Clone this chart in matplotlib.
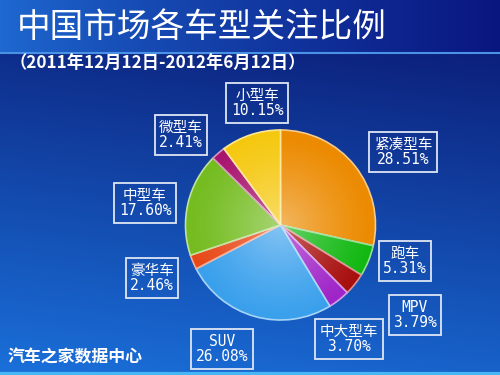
import numpy as np
import matplotlib
matplotlib.use("Agg")
import matplotlib.pyplot as plt
from matplotlib.colors import to_rgb

plt.rcParams['font.family'] = ['Noto Sans CJK SC', 'DejaVu Sans']

# data, clockwise from 12 o'clock
labels = ['紧凑型车', '跑车', 'MPV', '中大型车', 'SUV', '豪华车', '中型车', '微型车', '小型车']
shares = [28.51, 5.31, 3.79, 3.70, 26.08, 2.46, 17.60, 2.41, 10.15]
colors = ['#ec8a00', '#12b812', '#a80e0e', '#a024c8', '#3aa0ec',
          '#e84818', '#74bc20', '#a8146e', '#f5c810']

title = '中国市场各车型关注比例'
subtitle = '（2011年12月12日-2012年6月12日）'
source = '汽车之家数据中心'

# label box centres in pixels (same order as labels)
label_pos = [(403, 152), (405, 261), (415, 315), (349, 339), (222, 349),
             (152, 278), (145, 203), (181, 135), (257, 103)]

W, H = 500, 375
fig = plt.figure(figsize=(5, 3.75), dpi=100)

# background
bg = fig.add_axes([0, 0, 1, 1])
bg.set_xlim(0, W)
bg.set_ylim(H, 0)
bg.axis('off')

yy, xx = np.mgrid[0:1:200j, 0:1:260j]
top = np.array(to_rgb('#0a156e'))
bot = np.array(to_rgb('#1a70da'))
t = np.clip(yy * 0.85 + (1 - xx) * 0.15, 0, 1)[..., None]
img = top * (1 - t) + bot * t
bg.imshow(img, extent=(0, W, H, 0), aspect='auto', zorder=0)

band_l = np.array(to_rgb('#1e6ad2'))
band_r = np.array(to_rgb('#0a1680'))
s = np.linspace(0, 1, 260)[None, :, None] ** 0.8
band = band_l * (1 - s) + band_r * s
band = np.repeat(band, 10, axis=0)
bg.imshow(band, extent=(0, W, 52, 0), aspect='auto', zorder=1)
bg.plot([0, W], [52.5, 52.5], color='#4a92e6', lw=1.5, zorder=2)
bg.plot([0, W], [373.5, 373.5], color='#46b6f4', lw=3, zorder=2)
bg.set_xlim(0, W)
bg.set_ylim(H, 0)

bg.text(17, 28, title, color='white', fontsize=24.2, va='center', ha='left', zorder=3)
bg.text(10, 64, subtitle, color='white', fontsize=12.4, fontweight='bold',
        va='center', ha='left', zorder=3)
bg.text(8, 357, source, color='white', fontsize=12.2, fontweight='bold',
        va='center', ha='left', zorder=3)

for name, val, (px, py) in zip(labels, shares, label_pos):
    bg.text(px, py, f'{name}\n{val:.2f}%', color='white', fontsize=10.5,
            family=['DejaVu Sans Mono', 'Noto Sans CJK SC'],
            ha='center', va='center', linespacing=1.05, zorder=3,
            bbox=dict(boxstyle='square,pad=0.3', fc='none', ec='#dfe6f4', lw=1.3))

# pie
cx, cy, r = 280.5, 225, 95
pad = 1.02
ax = fig.add_axes([(cx - r * pad) / W, (H - cy - r * pad) / H,
                   2 * r * pad / W, 2 * r * pad / H])
edge = [tuple(0.45 * np.array(to_rgb(c)) + 0.55) for c in colors]
wedges, _ = ax.pie(shares, colors=colors, startangle=90, counterclock=False,
                   radius=1, wedgeprops=dict(linewidth=1.2))
for w, e in zip(wedges, edge):
    w.set_edgecolor(e)

# radial shading: lighter in the middle
gy, gx = np.mgrid[-1:1:300j, -1:1:300j]
rr = np.sqrt(gx ** 2 + gy ** 2)
shade = np.zeros((300, 300, 4))
light = np.clip(1 - rr, 0, 1)
shade[..., :3] = 1.0
shade[..., 3] = 0.38 * light ** 1.3
im = ax.imshow(shade, extent=(-1, 1, -1, 1), zorder=5)
circle = plt.Circle((0, 0), 1, transform=ax.transData)
im.set_clip_path(circle)
ax.set_xlim(-pad, pad)
ax.set_ylim(-pad, pad)
ax.axis('off')

fig.savefig('out.png', dpi=100)
